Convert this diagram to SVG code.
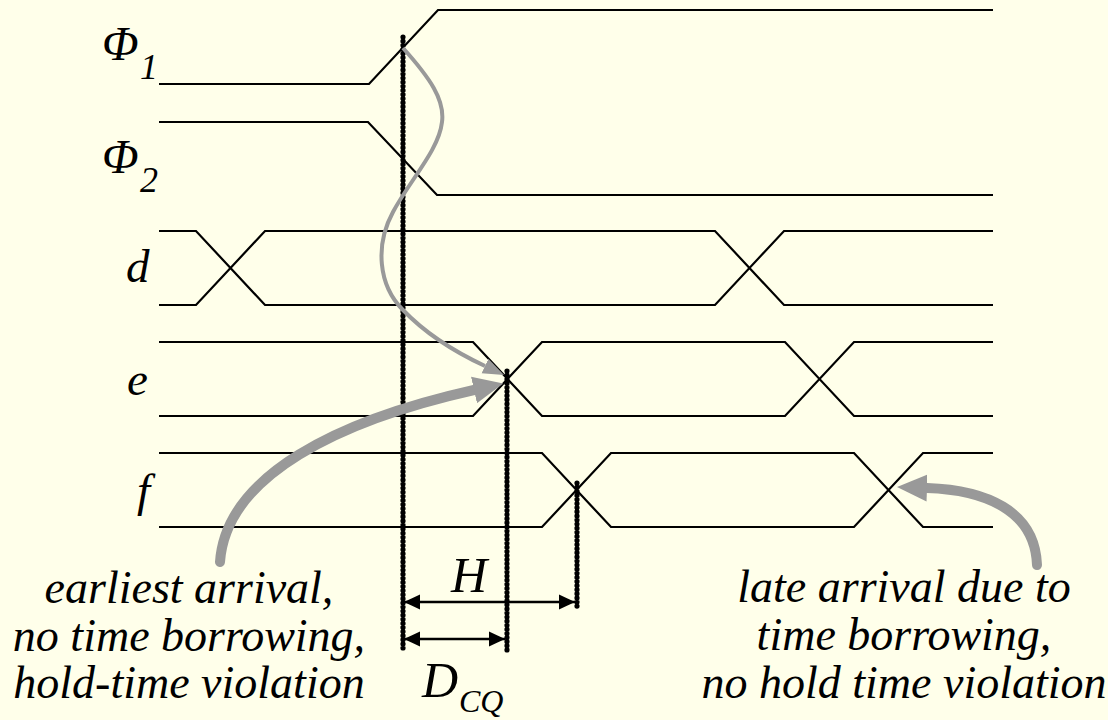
<svg xmlns="http://www.w3.org/2000/svg" width="1108" height="720" viewBox="0 0 1108 720">
<style>
.sig{fill:none;stroke:#000;stroke-width:2.2;stroke-linejoin:miter}
.dot{fill:none;stroke:#000;stroke-width:5.2;stroke-dasharray:0.1 4;stroke-linecap:round}
.dim{fill:none;stroke:#000;stroke-width:2.5}
.thin{fill:none;stroke:#999;stroke-width:4}
.thick{fill:none;stroke:#999;stroke-width:10;stroke-linecap:round}
.t{font-family:"Liberation Serif","Times New Roman",serif;font-style:italic;fill:#000}
.lbl{font-size:47px}
.note{font-size:46px;text-anchor:middle}
</style>
<defs>
<marker id="ah" markerUnits="userSpaceOnUse" markerWidth="20" markerHeight="16" refX="16" refY="8" orient="auto-start-reverse" viewBox="0 0 20 16">
<path d="M0,0.5 L16,8 L0,15.5 z" fill="#000"/>
</marker>
<marker id="gthin" markerUnits="userSpaceOnUse" markerWidth="22" markerHeight="18" refX="0" refY="9" orient="auto" viewBox="0 0 22 18">
<path d="M0,1 L21,9 L0,17 z" fill="#999"/>
</marker>
<marker id="gthick" markerUnits="userSpaceOnUse" markerWidth="32" markerHeight="28" refX="0" refY="14" orient="auto" viewBox="0 0 32 28">
<path d="M0,0.5 L30,14 L0,27.5 z" fill="#999"/>
</marker>
</defs>
<rect x="0" y="0" width="1108" height="720" fill="#FFFFEA"/>

<g id="phi1">
<polyline class="sig" points="159,84 369,84 438,10 993,10"/>
<text class="t" x="102" y="60" font-size="48">Φ</text>
<text class="t" x="140" y="79" font-size="36">1</text>
</g>
<g id="phi2">
<polyline class="sig" points="159,122 368,122 437,195 993,195"/>
<text class="t" x="102" y="173" font-size="48">Φ</text>
<text class="t" x="140" y="192" font-size="36">2</text>
</g>
<g id="d">
<polyline class="sig" points="159,231 196,231 265,305 715,305 784,231 993,231"/>
<polyline class="sig" points="159,305 196,305 265,231 715,231 784,305 993,305"/>
<text class="t lbl" x="126" y="282">d</text>
</g>
<g id="e">
<polyline class="sig" points="159,342 473,342 542,416 785,416 854,342 993,342"/>
<polyline class="sig" points="159,416 473,416 542,342 785,342 854,416 993,416"/>
<text class="t lbl" x="127" y="395">e</text>
</g>
<g id="f">
<polyline class="sig" points="159,453 542,453 611,527 854,527 923,453 993,453"/>
<polyline class="sig" points="159,527 542,527 611,453 854,453 923,527 993,527"/>
<text class="t lbl" x="137" y="506">f</text>
</g>

<g id="connectors">
<line class="dot" x1="403" y1="37" x2="403" y2="650"/>
<line class="dot" x1="507" y1="371" x2="507" y2="650"/>
<line class="dot" x1="577" y1="483" x2="577" y2="610"/>
<line class="dim" x1="404" y1="602" x2="575" y2="602" marker-start="url(#ah)" marker-end="url(#ah)"/>
<line class="dim" x1="404" y1="639" x2="505" y2="639" marker-start="url(#ah)" marker-end="url(#ah)"/>
<path class="thin" d="M403,48 C430,78 445,100 442,122 C439,150 410,180 393,212 C375,245 378,285 403,310 C425,333 455,352 485,366" marker-end="url(#gthin)"/>
<path class="thick" d="M220,562 C226,475 340,420 474,390" marker-end="url(#gthick)"/>
<path class="thick" d="M1037,565 C1035,510 985,490 927,488" marker-end="url(#gthick)"/>
</g>

<g id="dim-labels">
<text class="t" x="451" y="592" font-size="50">H</text>
<text class="t" x="422" y="697" font-size="50">D</text>
<text class="t" x="459" y="712" font-size="32">CQ</text>
</g>

<g id="note-left">
<text class="t note" x="189" y="603">earliest arrival,</text>
<text class="t note" x="189" y="651">no time borrowing,</text>
<text class="t note" x="189" y="698">hold-time violation</text>
</g>
<g id="note-right">
<text class="t note" x="904" y="602">late arrival due to</text>
<text class="t note" x="904" y="650">time borrowing,</text>
<text class="t note" x="904" y="698">no hold time violation</text>
</g>
</svg>
